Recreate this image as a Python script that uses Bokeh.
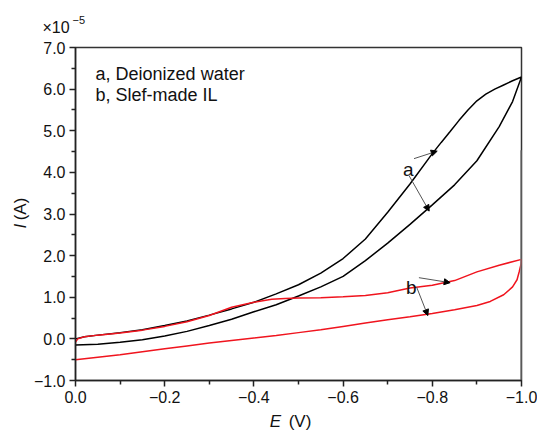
import math
from bokeh.plotting import figure
from bokeh.layouts import column, row
from bokeh.models import (Range1d, FixedTicker, CustomJSTickFormatter, Label,
                          Arrow, NormalHead)
from bokeh.embed import file_html
from bokeh.resources import INLINE

# ---------------- data ----------------
# curve a (deionized water): forward branch then return branch
a_fwd_E = [0.0, -0.05, -0.10, -0.15, -0.20, -0.25, -0.30, -0.35, -0.40, -0.45,
           -0.50, -0.55, -0.60, -0.65, -0.70, -0.75, -0.80, -0.85, -0.90,
           -0.95, -0.98, -1.0]
a_fwd_I = [-0.15, -0.13, -0.08, -0.02, 0.07, 0.18, 0.32, 0.47, 0.65, 0.82,
           1.03, 1.25, 1.50, 1.88, 2.30, 2.75, 3.22, 3.70, 4.28,
           5.10, 5.70, 6.29]
a_ret_E = [-1.0, -0.98, -0.96, -0.94, -0.92, -0.90, -0.88, -0.86, -0.84, -0.82,
           -0.80, -0.75, -0.70, -0.65, -0.60, -0.55, -0.50, -0.45, -0.40,
           -0.35, -0.30, -0.25, -0.20, -0.15, -0.10, -0.05, -0.02, 0.0]
a_ret_I = [6.29, 6.20, 6.10, 6.00, 5.88, 5.72, 5.50, 5.25, 4.98, 4.72,
           4.45, 3.72, 3.04, 2.40, 1.93, 1.58, 1.30, 1.08, 0.88,
           0.72, 0.57, 0.43, 0.32, 0.22, 0.15, 0.09, 0.05, 0.0]

# curve b (self-made IL)
b_fwd_E = [0.0, -0.05, -0.10, -0.15, -0.20, -0.25, -0.30, -0.35, -0.40, -0.45,
           -0.50, -0.55, -0.60, -0.65, -0.70, -0.75, -0.80, -0.85, -0.90,
           -0.93, -0.96, -0.98, -0.99, -0.995, -0.999, -1.0]
b_fwd_I = [-0.50, -0.44, -0.38, -0.31, -0.24, -0.17, -0.10, -0.04, 0.02, 0.08,
           0.15, 0.22, 0.30, 0.38, 0.46, 0.53, 0.61, 0.70, 0.80,
           0.90, 1.06, 1.25, 1.42, 1.62, 1.80, 1.91]
b_ret_E = [-1.0, -0.95, -0.90, -0.85, -0.80, -0.75, -0.70, -0.65, -0.60, -0.55,
           -0.50, -0.47, -0.44, -0.40, -0.35, -0.30, -0.25, -0.20, -0.15,
           -0.10, -0.05, -0.02, -0.005, 0.0]
b_ret_I = [1.91, 1.77, 1.61, 1.40, 1.29, 1.22, 1.11, 1.04, 1.01, 0.99,
           0.98, 0.97, 0.95, 0.88, 0.76, 0.56, 0.41, 0.30, 0.21,
           0.14, 0.09, 0.05, 0.0, -0.08]

# vertical trace at the switching potential
vline_E = -1.0
vline_I = [4.53, -1.0]

x_ticks = [0.0, -0.2, -0.4, -0.6, -0.8, -1.0]
x_minor = [-0.1, -0.3, -0.5, -0.7, -0.9]
y_ticks = [-1.0, 0.0, 1.0, 2.0, 3.0, 4.0, 5.0, 6.0, 7.0]
y_minor = [-0.5, 0.5, 1.5, 2.5, 3.5, 4.5, 5.5, 6.5]

legend_lines = ["a, Deionized water", "b, Slef-made IL"]
x_title = ("E", "(V)")
y_title = ("I", "(A)")
y_scale = ("\u00d710", "\u22125")

# annotation arrows: (x_start, y_start, x_end, y_end)
a_arrows = [(-0.759, 4.33, -0.811, 4.51), (-0.748, 3.92, -0.793, 3.07)]
b_arrows = [(-0.770, 1.47, -0.840, 1.35), (-0.765, 1.24, -0.790, 0.56)]

FONT = "Liberation Sans"
INK = "#111111"

TOP_H, BOT_H, LEFT_W = 38, 23, 30
MAIN_W, MAIN_H = 537 - LEFT_W, 433 - TOP_H - BOT_H
B_TOP = 47 - TOP_H              # border above the frame
B_BOT = (433 - BOT_H) - 380     # border below the frame


def lab(fig, x, y, text, size="18px", style="normal", align="left",
        baseline="alphabetic", angle=0.0):
    fig.add_layout(Label(x=x, y=y, text=text, text_font=FONT, text_font_size=size,
                         text_font_style=style, text_align=align,
                         text_baseline=baseline, angle=angle, text_color=INK))


def strip(w, h, y_range, b_top=0, b_bot=0):
    f = figure(width=w, height=h, output_backend="svg", toolbar_location=None,
               x_range=Range1d(0, w), y_range=y_range,
               x_axis_type=None, y_axis_type=None,
               min_border=0, min_border_left=0, min_border_right=0,
               min_border_top=b_top, min_border_bottom=b_bot)
    f.grid.visible = False
    f.outline_line_color = None
    return f


# ---------------- main plot ----------------
p = figure(width=MAIN_W, height=MAIN_H, output_backend="svg", toolbar_location=None,
           x_range=Range1d(0.0, -1.0), y_range=Range1d(-1.0, 7.0),
           min_border_left=74 - LEFT_W, min_border_right=16,
           min_border_top=B_TOP, min_border_bottom=B_BOT)
p.grid.visible = False
p.outline_line_color = "#333333"
p.outline_line_width = 1.5

fmt = CustomJSTickFormatter(code="""
var t = Math.abs(tick) < 1e-9 ? 0 : tick;
return t.toFixed(1).replace('-', '\\u2212');
""")

p.xaxis.ticker = FixedTicker(ticks=x_ticks, minor_ticks=x_minor)
p.yaxis.ticker = FixedTicker(ticks=y_ticks, minor_ticks=y_minor)
for ax in (p.xaxis, p.yaxis):
    ax.formatter = fmt
    ax.major_tick_in = 0
    ax.major_tick_out = 6
    ax.minor_tick_in = 0
    ax.minor_tick_out = 4
    ax.axis_line_color = "#222222"
    ax.axis_line_width = 1.5
    ax.major_tick_line_color = "#222222"
    ax.major_tick_line_width = 1.5
    ax.minor_tick_line_color = "#222222"
    ax.minor_tick_line_width = 1.5
    ax.major_label_text_font = FONT
    ax.major_label_text_font_size = "16px"
    ax.major_label_text_color = INK
    ax.major_label_standoff = 4

p.line(a_fwd_E + a_ret_E, a_fwd_I + a_ret_I, line_color="black", line_width=1.5)
p.line(b_fwd_E + b_ret_E, b_fwd_I + b_ret_I, line_color="#f0141e", line_width=1.5)
p.segment(x0=[vline_E], y0=[vline_I[0]], x1=[vline_E], y1=[vline_I[1]],
          line_color="#808080", line_width=2.5)

for (xs, ys, xe, ye) in a_arrows + b_arrows:
    p.add_layout(Arrow(end=NormalHead(size=6, fill_color="black", line_color="black",
                                      line_width=1),
                       x_start=xs, y_start=ys, x_end=xe, y_end=ye,
                       line_color="#555555", line_width=1))

lab(p, -0.045, 6.375, legend_lines[0])
lab(p, -0.045, 5.87, legend_lines[1])
lab(p, -0.746, 4.07, "a", size="19px", align="center")
lab(p, -0.753, 1.234, "b", size="19px", align="center")

# ---------------- text strips (axis titles, scale factor) ----------------
# top strip: pixel units, y measured up from the strip's bottom
top = strip(537, TOP_H, Range1d(0, TOP_H))
lab(top, 42, TOP_H - 26.5, y_scale[0], size="16px", baseline="middle")
lab(top, 72, TOP_H - 19, y_scale[1], size="11px", baseline="middle")

# left strip: its frame is aligned with the main frame, so it shares the I scale
left = strip(LEFT_W, MAIN_H, Range1d(-1.0, 7.0), b_top=B_TOP, b_bot=B_BOT)
lab(left, 20, 2.71, y_title[0], size="17px", style="italic", align="center",
    baseline="middle", angle=math.pi / 2)
lab(left, 20, 3.12, y_title[1], size="17px", align="center",
    baseline="middle", angle=math.pi / 2)

# bottom strip: pixel units
bottom = strip(537, BOT_H, Range1d(0, BOT_H))
lab(bottom, 275, BOT_H - 11, x_title[0], size="17px", style="italic", align="center",
    baseline="middle")
lab(bottom, 299.5, BOT_H - 11, x_title[1], size="17px", align="center",
    baseline="middle")

layout = column(top, row(left, p, spacing=0), bottom, spacing=0)

open("out.html", "w").write(file_html(layout, INLINE))
